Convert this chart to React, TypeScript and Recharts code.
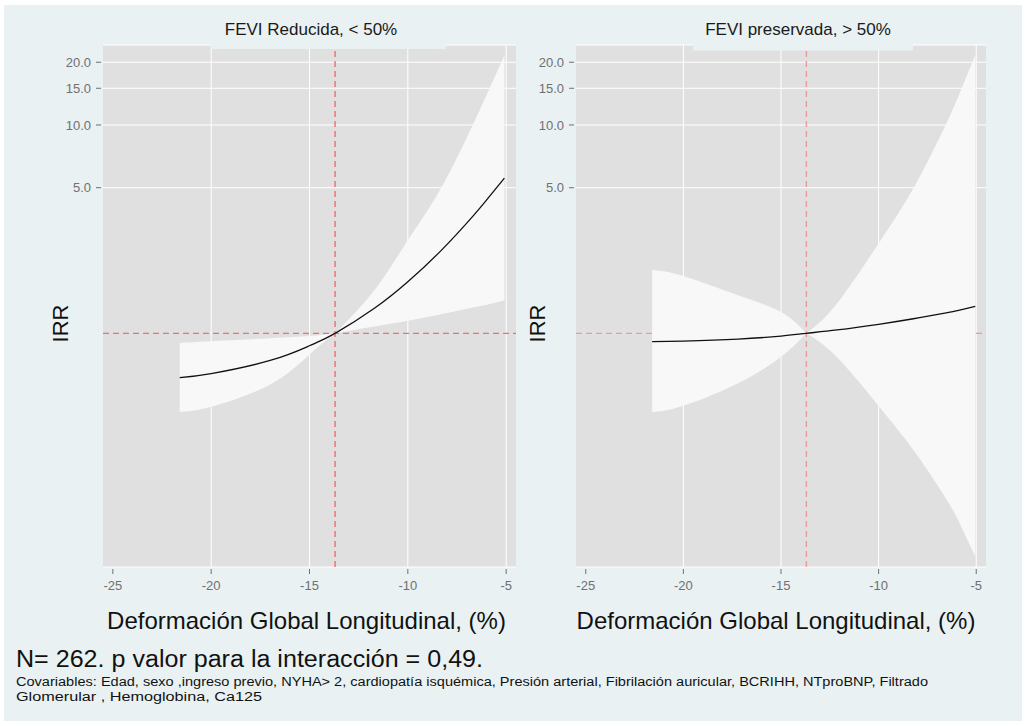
import React from 'react';
import {
  ComposedChart,
  Area,
  Line,
  XAxis,
  YAxis,
  CartesianGrid,
  ReferenceLine,
} from 'recharts';

// Axis setup shared by both panels
const xTicks = [-25, -20, -15, -10, -5];
const xGridValues = [-20, -15, -10, -5];
const yTicks = [5, 10, 15, 20];
const xDomain: [number, number] = [-25.5, -4.5];
const yDomain: [number, number] = [0.0756, 24.2];
const pivotX = -13.7;
const refIRR = 1;

// Panel 1: FEVI reducida (< 50%)
const reducidaX = [-21.6, -20, -17, -15, -13.7, -11.7, -10, -8.3, -6.7, -5.92, -5.09];
const reducidaIRR = [0.613, 0.641, 0.741, 0.872, 1, 1.319, 1.768, 2.502, 3.644, 4.455, 5.562];
const reducidaLow = [0.419, 0.444, 0.568, 0.791, 1, 1.078, 1.15, 1.234, 1.33, 1.377, 1.441];
const reducidaHigh = [0.899, 0.915, 0.947, 0.97, 1, 1.608, 2.801, 4.998, 10.0, 14.44, 21.54];

// Panel 2: FEVI preservada (> 50%)
const preservadaX = [-21.6, -20, -17.2, -15, -13.7, -12.13, -10, -8.22, -6.61, -5.85, -5.05];
const preservadaIRR = [0.912, 0.918, 0.938, 0.97, 1, 1.038, 1.105, 1.175, 1.249, 1.292, 1.347];
const preservadaLow = [0.419, 0.449, 0.576, 0.771, 1, 0.767, 0.448, 0.2755, 0.1645, 0.1226, 0.0848];
const preservadaHigh = [2.014, 1.883, 1.522, 1.266, 1, 1.392, 2.702, 4.963, 9.806, 14.18, 21.65];

const panelTitles = ['FEVI Reducida, < 50%', 'FEVI preservada, > 50%'];
const xTitle = 'Deformación Global Longitudinal, (%)';
const yTitle = 'IRR';
const noteMain = 'N= 262.  p valor para la interacción = 0,49.';
const noteCov1 =
  'Covariables: Edad, sexo ,ingreso previo, NYHA> 2, cardiopatía isquémica, Presión arterial, Fibrilación auricular, BCRIHH, NTproBNP, Filtrado';
const noteCov2 = 'Glomerular , Hemoglobina, Ca125';

const FONT = "'Liberation Sans', Arial, Helvetica, sans-serif";
const NARROW = "'Liberation Sans Narrow', 'Liberation Sans', Arial, sans-serif";
const OUTER_BG = '#e9f1f3';
const PLOT_BG = '#e0e0e0';
const BAND = '#f8f8f8';
const TICK_COLOR = '#707070';

type Row = { x: number; irr: number; bandL?: [number, number]; bandR?: [number, number] };

// the confidence band is split at the reference point so both halves meet in a sharp crossing
const buildRows = (xs: number[], irr: number[], lo: number[], hi: number[]): Row[] =>
  xs.map((x, i) => ({
    x,
    irr: irr[i],
    bandL: x <= pivotX ? [lo[i], hi[i]] : undefined,
    bandR: x >= pivotX ? [lo[i], hi[i]] : undefined,
  }));

const reducidaRows = buildRows(reducidaX, reducidaIRR, reducidaLow, reducidaHigh);
const preservadaRows = buildRows(preservadaX, preservadaIRR, preservadaLow, preservadaHigh);

const XTick = (props: any) => {
  const { x, y, payload } = props;
  return (
    <g>
      <line x1={x} x2={x} y1={y + 2} y2={y + 7} stroke={TICK_COLOR} strokeWidth={1} />
      <text x={x} y={y + 23} textAnchor="middle" fontSize={13} fontFamily={FONT} fill={TICK_COLOR}>
        {payload.value}
      </text>
    </g>
  );
};

const YTick = (props: any) => {
  const { x, y, payload } = props;
  return (
    <g>
      <line x1={x - 7} x2={x - 2} y1={y} y2={y} stroke={TICK_COLOR} strokeWidth={1} />
      <text
        x={x - 12}
        y={y}
        dy="0.35em"
        textAnchor="end"
        fontSize={13}
        fontFamily={FONT}
        fill={TICK_COLOR}
      >
        {Number(payload.value).toFixed(1)}
      </text>
    </g>
  );
};

type PanelProps = { rows: Row[]; width: number; refColor: string };

const Panel = ({ rows, width, refColor }: PanelProps) => (
  <ComposedChart
    width={width}
    height={640}
    data={rows}
    margin={{ top: 45, right: 4, bottom: 0, left: 0 }}
  >
    <CartesianGrid
      fill={PLOT_BG}
      fillOpacity={1}
      stroke="#ffffff"
      strokeWidth={1}
      vertical={false}
      horizontal={true}
    />
    {xGridValues.map((v) => (
      <ReferenceLine key={v} x={v} stroke="#ffffff" strokeWidth={1} zIndex={-60} />
    ))}
    <ReferenceLine x={pivotX} stroke={refColor} strokeWidth={1.4} strokeDasharray="6 4" zIndex={50} />
    <ReferenceLine y={refIRR} stroke={refColor} strokeWidth={1.4} strokeDasharray="6 4" zIndex={50} />
    <Area
      dataKey="bandL"
      type="natural"
      fill={BAND}
      fillOpacity={1}
      stroke="none"
      isAnimationActive={false}
      dot={false}
      activeDot={false}
    />
    <Area
      dataKey="bandR"
      type="natural"
      fill={BAND}
      fillOpacity={1}
      stroke="none"
      isAnimationActive={false}
      dot={false}
      activeDot={false}
    />
    <Line
      dataKey="irr"
      type="natural"
      stroke="#111111"
      strokeWidth={1.3}
      dot={false}
      activeDot={false}
      isAnimationActive={false}
    />
    <XAxis
      dataKey="x"
      type="number"
      domain={xDomain}
      ticks={xTicks}
      allowDataOverflow
      axisLine={false}
      tickLine={false}
      tickSize={0}
      tickMargin={0}
      height={73}
      tick={<XTick />}
      interval={0}
    />
    <YAxis
      type="number"
      scale="log"
      domain={yDomain}
      ticks={yTicks}
      allowDataOverflow
      axisLine={false}
      tickLine={false}
      tickSize={0}
      tickMargin={0}
      width={103}
      tick={<YTick />}
      interval={0}
    />
  </ComposedChart>
);

export default function App() {
  return (
    <div
      style={{
        position: 'absolute',
        left: 0,
        top: 0,
        width: 1027,
        height: 726,
        background: '#ffffff',
        overflow: 'hidden',
      }}
    >
      <div
        style={{ position: 'absolute', left: 4, top: 5, width: 1018, height: 716, background: OUTER_BG }}
      />
      <div style={{ position: 'absolute', left: 0, top: 0 }}>
        <Panel rows={reducidaRows} width={520} refColor="#f26e6e" />
      </div>
      <div style={{ position: 'absolute', left: 473, top: 0 }}>
        <Panel rows={preservadaRows} width={517} refColor="#ea9c9c" />
      </div>
      <svg
        width={1027}
        height={726}
        style={{ position: 'absolute', left: 0, top: 0, pointerEvents: 'none' }}
      >
        {/* title strips */}
        <rect x={211} y={5} width={235} height={44} fill={OUTER_BG} />
        <rect x={693} y={5} width={220} height={45.5} fill={OUTER_BG} />
        <text x={311} y={35} textAnchor="middle" fontSize={17} fontFamily={FONT} fill="#1a1a1a">
          {panelTitles[0]}
        </text>
        <text x={798} y={35} textAnchor="middle" fontSize={17} fontFamily={FONT} fill="#1a1a1a">
          {panelTitles[1]}
        </text>

        {/* axis titles */}
        <text x={306.5} y={629} textAnchor="middle" fontSize={24} fontFamily={FONT} fill="#111">
          {xTitle}
        </text>
        <text x={776} y={629} textAnchor="middle" fontSize={24} fontFamily={FONT} fill="#111">
          {xTitle}
        </text>
        <text
          transform="translate(68,323.5) rotate(-90)"
          textAnchor="middle"
          fontSize={22}
          fontFamily={FONT}
          fill="#111"
        >
          {yTitle}
        </text>
        <text
          transform="translate(545,323.5) rotate(-90)"
          textAnchor="middle"
          fontSize={22}
          fontFamily={FONT}
          fill="#111"
        >
          {yTitle}
        </text>

        {/* notes */}
        <text
          x={16}
          y={667}
          fontSize={23}
          fontFamily={NARROW}
          fill="#111"
          textLength={467}
          lengthAdjust="spacingAndGlyphs"
        >
          {noteMain}
        </text>
        <text
          x={16}
          y={686}
          fontSize={12.5}
          fontFamily={NARROW}
          fill="#111"
          textLength={912}
          lengthAdjust="spacingAndGlyphs"
        >
          {noteCov1}
        </text>
        <text
          x={16}
          y={701}
          fontSize={12.5}
          fontFamily={NARROW}
          fill="#111"
          textLength={246}
          lengthAdjust="spacingAndGlyphs"
        >
          {noteCov2}
        </text>
      </svg>
    </div>
  );
}
